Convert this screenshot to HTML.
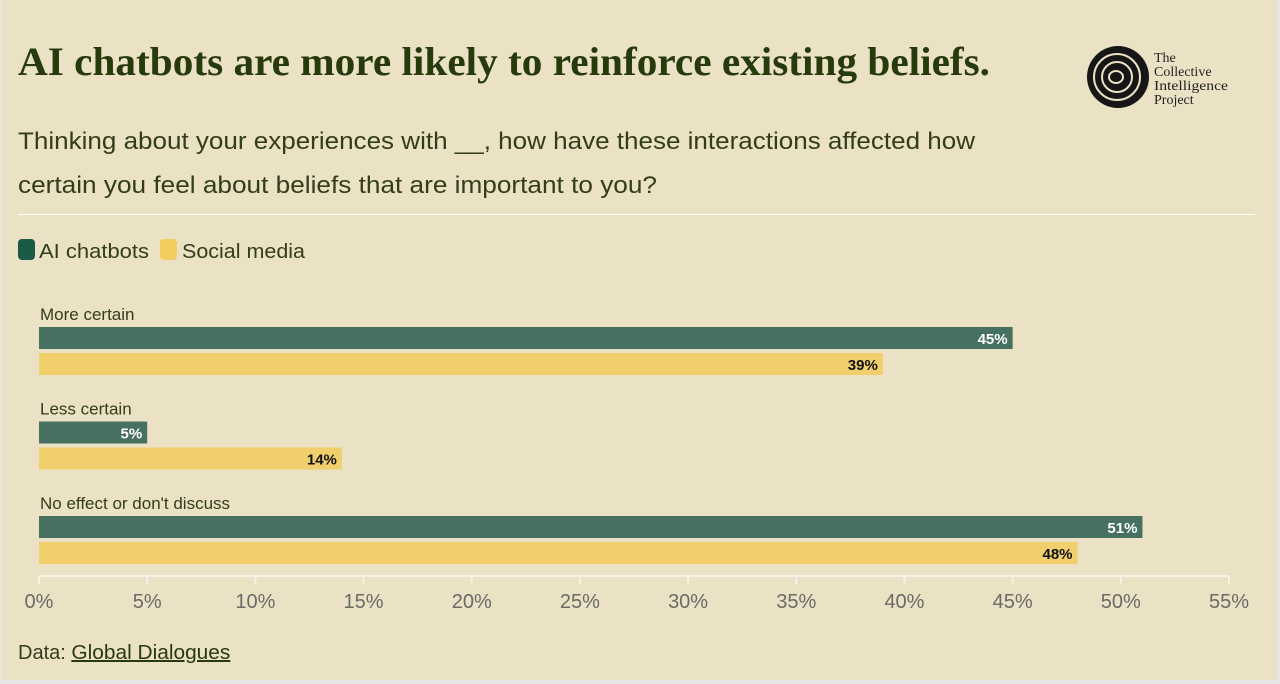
<!DOCTYPE html>
<html><head><meta charset="utf-8"><style>
html,body{margin:0;padding:0;background:#e6e6e6;}
svg{display:block;font-family:"Liberation Sans",sans-serif;}
</style></head><body>
<svg id="chart" width="1280" height="684" viewBox="0 0 1280 684" xmlns="http://www.w3.org/2000/svg">
<rect x="1" y="0" width="1276" height="680" fill="#ebe1c5"/>
<text x="18" y="75" font-family="Liberation Serif, serif" font-weight="bold" font-size="40" fill="#263a0c" textLength="972" lengthAdjust="spacingAndGlyphs">AI chatbots are more likely to reinforce existing beliefs.</text>
<text x="18" y="149" font-size="24" fill="#333d1a" textLength="957" lengthAdjust="spacingAndGlyphs">Thinking about your experiences with __, how have these interactions affected how</text>
<text x="18" y="193" font-size="24" fill="#333d1a" textLength="639" lengthAdjust="spacingAndGlyphs">certain you feel about beliefs that are important to you?</text>
<g>
<circle cx="1118" cy="77" r="31" fill="#161616"/>
<circle cx="1117" cy="77" r="23" fill="none" stroke="#ebe1c5" stroke-width="2"/>
<circle cx="1117" cy="77" r="15" fill="none" stroke="#ebe1c5" stroke-width="2"/>
<ellipse cx="1116" cy="77" rx="7" ry="6" fill="none" stroke="#ebe1c5" stroke-width="2"/>
<g font-family="Liberation Serif, serif" font-size="14" fill="#222">
<text x="1154" y="62">The</text><text x="1154" y="76">Collective</text><text x="1154" y="90" textLength="74" lengthAdjust="spacingAndGlyphs">Intelligence</text><text x="1154" y="104">Project</text></g>
</g>
<line x1="18" y1="214.5" x2="1255" y2="214.5" stroke="#fff" stroke-width="1"/>
<g>
<rect x="18" y="239" width="17" height="21" rx="4" fill="#1c5a48"/>
<text x="39" y="258" font-size="20" fill="#333d1a" textLength="110" lengthAdjust="spacingAndGlyphs">AI chatbots</text>
<rect x="160" y="239" width="17" height="21" rx="4" fill="#f2cd5f"/>
<text x="182" y="258" font-size="20" fill="#333d1a" textLength="123" lengthAdjust="spacingAndGlyphs">Social media</text>
</g>
<g id="plot"></g>
<text x="18" y="659" font-size="20" fill="#333d1a">Data: <tspan text-decoration="underline" fill="#263a0c" textLength="159" lengthAdjust="spacingAndGlyphs">Global Dialogues</tspan></text>
</svg>
<script>
const categories = ["More certain", "Less certain", "No effect or don't discuss"];
const aiValues = [45, 5, 51];
const socialValues = [39, 14, 48];
const tickValues = [0,5,10,15,20,25,30,35,40,45,50,55];
const tickLabels = ["0%","5%","10%","15%","20%","25%","30%","35%","40%","45%","50%","55%"];

const NS = "http://www.w3.org/2000/svg";
const plot = document.getElementById('plot');
const x0 = 39, x1 = 1229, maxV = 55;
const xs = v => x0 + (x1 - x0) * v / maxV;
const groupY = i => 327 + i * 94.5;
function mk(tag, attrs){ const e=document.createElementNS(NS,tag); for(const k in attrs) e.setAttribute(k,attrs[k]); plot.appendChild(e); return e; }

categories.forEach((c,i)=>{
  const gy = groupY(i);
  const lab = mk('text',{x:40,y:gy-7,'font-size':17,fill:'#333d1a'});
  lab.textContent = c;
  
  
  [[aiValues,'#46705f','#fff',0],[socialValues,'#f1cf6c','#111',26]].forEach(([arr,col,tc,off],s)=>{
    const r = mk('rect',{x:x0,y:gy+off,width:xs(arr[i])-x0,height:22,fill:col});
    
    
    const t = mk('text',{x:xs(arr[i])-5,y:gy+off+17,'font-size':15,'font-weight':'bold',fill:tc,'text-anchor':'end'});
    t.textContent = arr[i] + '%';
    
    
  });
});
const ax = mk('line',{x1:x0,y1:576,x2:x1,y2:576,stroke:'#f6f2e6','stroke-width':2});


tickValues.forEach((v,i)=>{
  const tk = mk('line',{x1:xs(v),y1:576,x2:xs(v),y2:584,stroke:'#f6f2e6','stroke-width':2});
  
  
  const tl = mk('text',{x:xs(v),y:608,'font-size':20,fill:'#6a6a66','text-anchor':'middle'});
  tl.textContent = tickLabels[i];
  
  
});
</script>
</body></html>
